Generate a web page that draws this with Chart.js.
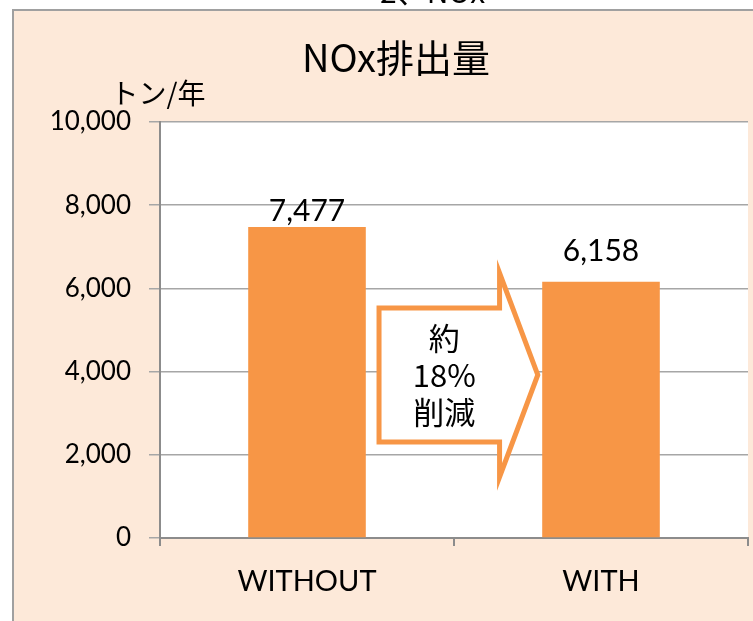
<!DOCTYPE html>
<html>
<head>
<meta charset="utf-8">
<script src="https://cdn.jsdelivr.net/npm/chart.js@4.4.1/dist/chart.umd.min.js"></script>
<style>
  html, body { margin: 0; padding: 0; background: #ffffff; }
  #wrap { width: 753px; height: 621px; position: relative; }
</style>
</head>
<body>
<div id="wrap"><canvas id="c" width="753" height="621"></canvas></div>
<script>
// ---- data ----
const categories = ['WITHOUT', 'WITH'];
const noxValues = [7477, 6158];
const yTickValues = [0, 2000, 4000, 6000, 8000, 10000];
const titleText = 'NOx排出量';
const unitLabel = 'トン/年';
const arrowLines = ['約', '18%', '削減'];
const clippedHeading = '2、NOx';

// ---- styles ----
const PEACH = '#fde9d9';
const ORANGE = '#f79646';
const GRID = '#a6a6a6';
const AXIS = '#8c8c8c';

const backgroundPlugin = {
  id: 'bg',
  beforeDraw(chart) {
    const ctx = chart.ctx;
    const ca = chart.chartArea;
    ctx.save();
    ctx.fillStyle = '#ffffff';
    ctx.fillRect(0, 0, chart.width, chart.height);
    ctx.fillStyle = PEACH;
    ctx.fillRect(12, 10, chart.width, chart.height);
    ctx.strokeStyle = '#a0a0a0';
    ctx.lineWidth = 2;
    ctx.beginPath();
    ctx.moveTo(13, chart.height + 5);
    ctx.lineTo(13, 10);
    ctx.lineTo(chart.width + 5, 10);
    ctx.stroke();
    ctx.fillStyle = '#ffffff';
    ctx.fillRect(ca.left, ca.top, ca.right - ca.left, ca.bottom - ca.top);
    // clipped heading above the chart box
    ctx.fillStyle = '#000';
    ctx.font = '30px "Noto Sans CJK JP"';
    ctx.textBaseline = 'alphabetic';
    ctx.textAlign = 'left';
    ctx.fillText(clippedHeading, 380, 3);
    ctx.restore();
  }
};

const decorPlugin = {
  id: 'decor',
  afterDatasetsDraw(chart, args, opts) {
    const ctx = chart.ctx;
    const xs = chart.scales.x, ys = chart.scales.y;
    const meta = chart.getDatasetMeta(0);
    ctx.save();
    // value labels
    ctx.fillStyle = '#000';
    ctx.font = '30px Lato';
    ctx.textAlign = 'center';
    ctx.textBaseline = 'alphabetic';
    meta.data.forEach((bar, i) => {
      const v = noxValues[i];
      ctx.fillText(v.toLocaleString('en-US'), bar.x, bar.y - opts.labelGaps[i]);
    });
    // arrow (geometry in data units)
    const a = opts.arrow;
    const X = v => xs.getPixelForValue(v);
    const Y = v => ys.getPixelForValue(v);
    ctx.beginPath();
    ctx.moveTo(X(a.left), Y(a.bodyTop));
    ctx.lineTo(X(a.headBase), Y(a.bodyTop));
    ctx.lineTo(X(a.headBase), Y(a.headTop));
    ctx.lineTo(X(a.tip), Y((a.headTop + a.headBottom) / 2));
    ctx.lineTo(X(a.headBase), Y(a.headBottom));
    ctx.lineTo(X(a.headBase), Y(a.bodyBottom));
    ctx.lineTo(X(a.left), Y(a.bodyBottom));
    ctx.closePath();
    ctx.fillStyle = '#ffffff';
    ctx.fill();
    ctx.strokeStyle = ORANGE;
    ctx.lineWidth = 5;
    ctx.lineJoin = 'miter';
    ctx.stroke();
    // arrow text
    const cx = (X(a.left) + X(a.headBase)) / 2 + 5;
    const cy = (Y(a.bodyTop) + Y(a.bodyBottom)) / 2;
    ctx.fillStyle = '#000';
    ctx.font = '31px "Noto Sans CJK JP"';
    ctx.textAlign = 'center';
    ctx.textBaseline = 'middle';
    const lh = 37;
    arrowLines.forEach((t, i) => {
      ctx.fillText(t, cx, cy + (i - (arrowLines.length - 1) / 2) * lh);
    });
    ctx.restore();
  },
  afterDraw(chart) {
    const ctx = chart.ctx;
    ctx.save();
    ctx.fillStyle = '#000';
    ctx.textAlign = 'center';
    ctx.textBaseline = 'middle';
    ctx.font = '38px "Noto Sans CJK JP"';
    ctx.fillText(titleText, 396, 58);
    ctx.font = '28px "Noto Sans CJK JP"';
    ctx.fillText(unitLabel, 158, 93);
    ctx.restore();
  }
};

new Chart(document.getElementById('c'), {
  type: 'bar',
  data: {
    labels: categories,
    datasets: [{
      data: noxValues,
      backgroundColor: ORANGE,
      borderWidth: 0,
      barPercentage: 0.4,
      categoryPercentage: 1.0
    }]
  },
  options: {
    responsive: false,
    devicePixelRatio: 1,
    animation: false,
    layout: { padding: { top: 122, right: 5, left: 0, bottom: 0 } },
    plugins: {
      legend: { display: false },
      tooltip: { enabled: false },
      decor: {
        labelGaps: [6, 21],
        arrow: { left: 0.245, headBase: 0.655, tip: 0.785, bodyTop: 5530, bodyBottom: 2310, headTop: 6370, headBottom: 1470 }
      }
    },
    scales: {
      x: {
        afterFit(scale) { scale.height = 83; },
        grid: { offset: true, drawOnChartArea: false, drawTicks: true, tickLength: 8, color: AXIS, lineWidth: 2 },
        border: { display: true, color: AXIS, width: 2 },
        ticks: { color: '#000', font: { family: 'Lato', size: 29 }, padding: 18 }
      },
      y: {
        min: 0,
        max: 10000,
        afterFit(scale) { scale.width = 160; },
        afterBuildTicks(scale) { scale.ticks = yTickValues.map(v => ({ value: v })); },
        grid: { color: GRID, lineWidth: 1.5, drawTicks: true, tickLength: 11 },
        border: { display: true, color: AXIS, width: 2 },
        ticks: {
          color: '#000',
          font: { family: 'Lato', size: 26 },
          padding: 18,
          callback: v => Number(v).toLocaleString('en-US')
        }
      }
    }
  },
  plugins: [backgroundPlugin, decorPlugin]
});
</script>
</body>
</html>
